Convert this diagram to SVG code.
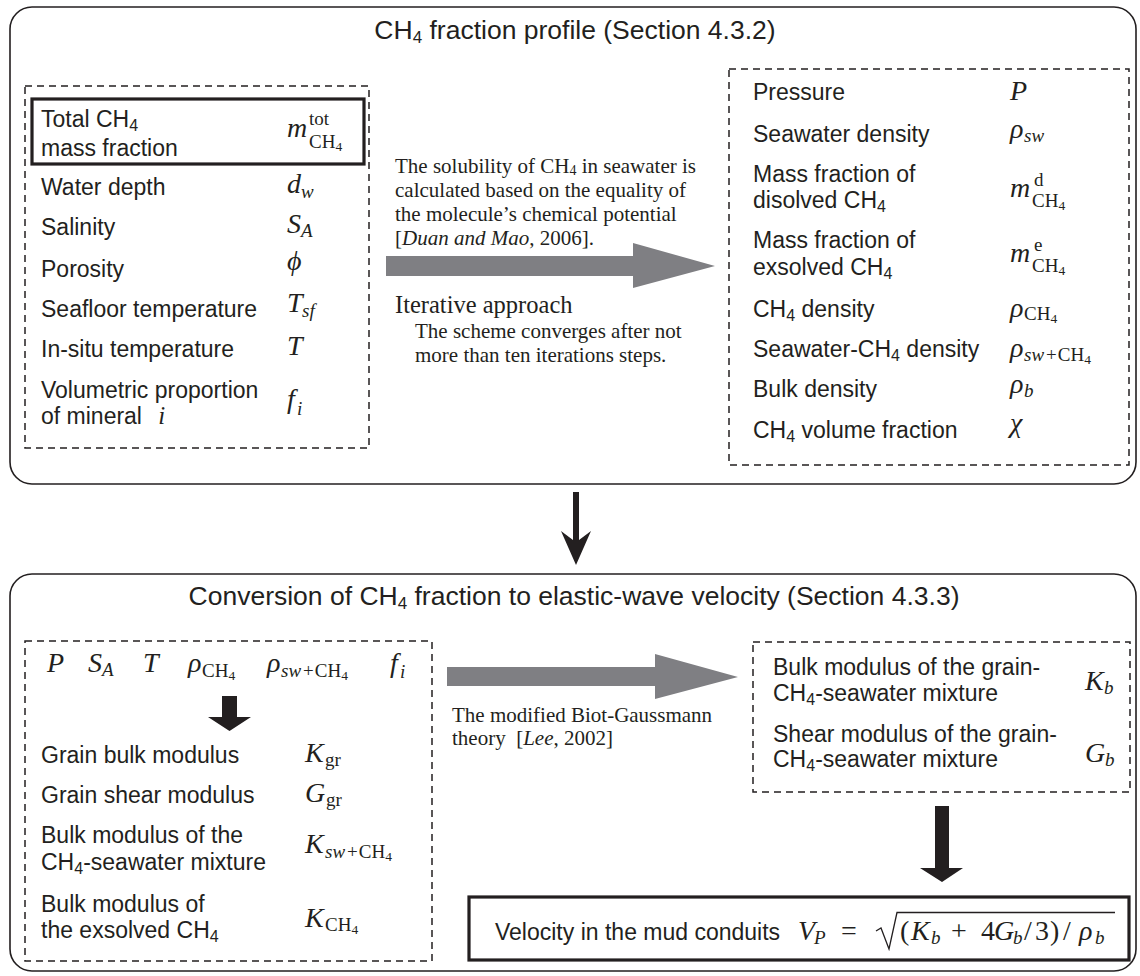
<svg xmlns="http://www.w3.org/2000/svg" width="1140" height="976" viewBox="0 0 1140 976">
<style>
.outer{fill:none;stroke:#231f20;stroke-width:1.6}
.dash{fill:none;stroke:#231f20;stroke-width:1.5;stroke-dasharray:7 5}
.solid{fill:none;stroke:#231f20;stroke-width:3.2}
text{fill:#231f20}
.lbl{font-family:"Liberation Sans",Arial,sans-serif;font-size:23px}
.ttl{font-family:"Liberation Sans",Arial,sans-serif;font-size:26.5px}
.ser{font-family:"Liberation Serif","Times New Roman",serif;font-size:21px}
.ser2{font-family:"Liberation Serif","Times New Roman",serif;font-size:24.5px}
.mi{font-family:"Liberation Serif","DejaVu Serif",serif;font-style:italic;font-size:28px}
.mr{font-family:"Liberation Serif","DejaVu Serif",serif;font-size:28px}
.si{font-family:"Liberation Serif","DejaVu Serif",serif;font-style:italic;font-size:19px}
.sr{font-family:"Liberation Serif","DejaVu Serif",serif;font-size:19px}
.s4{font-size:13.5px;font-style:normal}
.gray{fill:#7f7f83}
.blk{fill:#231f20}
.rad{fill:none;stroke:#231f20;stroke-width:1.3;stroke-linejoin:miter}
</style>

<g id="profile-section">
  <rect class="outer" x="10" y="7" width="1126" height="477" rx="22"/>
  <text class="ttl" x="575" y="39" text-anchor="middle">CH<tspan font-size="17" dy="4">4</tspan><tspan dy="-4"> fraction profile (Section 4.3.2)</tspan></text>
</g>

<g id="inputs">
  <rect class="dash" x="25" y="86" width="344" height="362"/>
  <g id="total-ch4">
    <rect class="solid" x="32" y="99" width="332" height="65"/>
    <text class="lbl" x="41" y="127">Total CH<tspan font-size="16" dy="4">4</tspan></text>
    <text class="lbl" x="41" y="156">mass fraction</text>
    <text class="mi" x="287" y="137">m</text>
    <text class="sr" x="309" y="125">tot</text>
    <text class="sr" x="309" y="148">CH<tspan class="s4" dy="3">4</tspan></text>
  </g>
  <text class="lbl" x="41" y="195">Water depth</text>
  <text class="mi" x="287" y="193">d</text><text class="si" x="301" y="198">w</text>
  <text class="lbl" x="41" y="235">Salinity</text>
  <text class="mi" x="287" y="233">S</text><text class="si" x="301" y="237">A</text>
  <text class="lbl" x="41" y="277">Porosity</text>
  <text class="mi" x="287" y="270">ϕ</text>
  <text class="lbl" x="41" y="317">Seafloor temperature</text>
  <text class="mi" x="287" y="312">T</text><text class="si" x="302" y="317">sf</text>
  <text class="lbl" x="41" y="357">In-situ temperature</text>
  <text class="mi" x="287" y="355">T</text>
  <text class="lbl" x="41" y="398">Volumetric proportion</text>
  <text class="lbl" x="41" y="424">of mineral<tspan dx="10" font-family="Liberation Serif, serif" font-style="italic" font-size="25"> i</tspan></text>
  <text class="mi" x="287" y="408">f</text><text class="si" x="297" y="415">i</text>
</g>

<g id="solubility-note">
  <text class="ser" x="395" y="173">The solubility of CH<tspan font-size="14" dy="2">4</tspan><tspan dy="-2"> in seawater is</tspan></text>
  <text class="ser" x="395" y="197">calculated based on the equality of</text>
  <text class="ser" x="395" y="221">the molecule’s chemical potential</text>
  <text class="ser" x="395" y="245">[<tspan font-style="italic">Duan and Mao</tspan>, 2006].</text>
  <text class="ser2" x="395" y="313">Iterative approach</text>
  <text class="ser" x="415" y="338">The scheme converges after not</text>
  <text class="ser" x="415" y="362">more than ten iterations steps.</text>
</g>

<g id="outputs">
  <rect class="dash" x="729" y="69" width="400" height="396"/>
  <text class="lbl" x="753" y="100">Pressure</text>
  <text class="mi" x="1010" y="100">P</text>
  <text class="lbl" x="753" y="142">Seawater density</text>
  <text class="mi" x="1010" y="138">ρ</text><text class="si" x="1024" y="142">sw</text>
  <text class="lbl" x="753" y="182">Mass fraction of</text>
  <text class="lbl" x="753" y="208">disolved CH<tspan font-size="16" dy="4">4</tspan></text>
  <text class="mi" x="1010" y="197">m</text><text class="sr" x="1034" y="186">d</text>
  <text class="sr" x="1032" y="207">CH<tspan class="s4" dy="3">4</tspan></text>
  <text class="lbl" x="753" y="248">Mass fraction of</text>
  <text class="lbl" x="753" y="275">exsolved CH<tspan font-size="16" dy="4">4</tspan></text>
  <text class="mi" x="1010" y="262">m</text><text class="sr" x="1034" y="251">e</text>
  <text class="sr" x="1032" y="272">CH<tspan class="s4" dy="3">4</tspan></text>
  <text class="lbl" x="753" y="317">CH<tspan font-size="16" dy="4">4</tspan><tspan dy="-4"> density</tspan></text>
  <text class="mi" x="1010" y="317">ρ</text><text class="sr" x="1024" y="320">CH<tspan class="s4" dy="3">4</tspan></text>
  <text class="lbl" x="753" y="357">Seawater-CH<tspan font-size="16" dy="4">4</tspan><tspan dy="-4"> density</tspan></text>
  <text class="mi" x="1010" y="357">ρ</text><text class="sr" x="1024" y="361"><tspan font-style="italic">sw</tspan><tspan dx="2">+</tspan><tspan dx="1">CH</tspan><tspan class="s4" dy="3">4</tspan></text>
  <text class="lbl" x="753" y="397">Bulk density</text>
  <text class="mi" x="1010" y="393">ρ</text><text class="si" x="1024" y="397">b</text>
  <text class="lbl" x="753" y="438">CH<tspan font-size="16" dy="4">4</tspan><tspan dy="-4"> volume fraction</tspan></text>
  <text class="mi" x="1010" y="432">χ</text>
</g>

<g id="conversion-section">
  <rect class="outer" x="10" y="574" width="1126" height="397" rx="22"/>
  <text class="ttl" x="574" y="605" text-anchor="middle">Conversion of CH<tspan font-size="17" dy="4">4</tspan><tspan dy="-4"> fraction to elastic-wave velocity (Section 4.3.3)</tspan></text>
</g>

<g id="moduli">
  <rect class="dash" x="25" y="641" width="407" height="320"/>
  <text class="mi" x="47" y="672">P</text>
  <text class="mi" x="88" y="672">S</text><text class="si" x="102" y="676">A</text>
  <text class="mi" x="143" y="672">T</text>
  <text class="mi" x="188" y="672">ρ</text><text class="sr" x="202" y="677">CH<tspan class="s4" dy="3">4</tspan></text>
  <text class="mi" x="267" y="672">ρ</text><text class="sr" x="281" y="677"><tspan font-style="italic">sw</tspan><tspan dx="2">+</tspan><tspan dx="1">CH</tspan><tspan class="s4" dy="3">4</tspan></text>
  <text class="mi" x="390" y="672">f</text><text class="si" x="400" y="678">i</text>
  <text class="lbl" x="41" y="763">Grain bulk modulus</text>
  <text class="mi" x="305" y="762">K</text><text class="sr" x="325" y="766">gr</text>
  <text class="lbl" x="41" y="803">Grain shear modulus</text>
  <text class="mi" x="305" y="802">G</text><text class="sr" x="326" y="806">gr</text>
  <text class="lbl" x="41" y="843">Bulk modulus of the</text>
  <text class="lbl" x="41" y="870">CH<tspan font-size="16" dy="4">4</tspan><tspan dy="-4">-seawater mixture</tspan></text>
  <text class="mi" x="305" y="853">K</text><text class="sr" x="325" y="858"><tspan font-style="italic">sw</tspan><tspan dx="2">+</tspan><tspan dx="1">CH</tspan><tspan class="s4" dy="3">4</tspan></text>
  <text class="lbl" x="41" y="912">Bulk modulus of</text>
  <text class="lbl" x="41" y="938">the exsolved CH<tspan font-size="16" dy="4">4</tspan></text>
  <text class="mi" x="305" y="927">K</text><text class="sr" x="325" y="931">CH<tspan class="s4" dy="3">4</tspan></text>
</g>

<g id="biot-note">
  <text class="ser" x="452" y="722">The modified Biot-Gaussmann</text>
  <text class="ser" x="452" y="745">theory&#160; [<tspan font-style="italic">Lee</tspan>, 2002]</text>
</g>

<g id="bulk-shear">
  <rect class="dash" x="753" y="642" width="377" height="150"/>
  <text class="lbl" x="773" y="675">Bulk modulus of the grain-</text>
  <text class="lbl" x="773" y="701">CH<tspan font-size="16" dy="4">4</tspan><tspan dy="-4">-seawater mixture</tspan></text>
  <text class="mi" x="1085" y="690">K</text><text class="si" x="1104" y="694">b</text>
  <text class="lbl" x="773" y="742">Shear modulus of the grain-</text>
  <text class="lbl" x="773" y="767">CH<tspan font-size="16" dy="4">4</tspan><tspan dy="-4">-seawater mixture</tspan></text>
  <text class="mi" x="1085" y="762">G</text><text class="si" x="1105" y="766">b</text>
</g>

<g id="velocity">
  <rect class="solid" x="469" y="897" width="660" height="63"/>
  <text class="lbl" x="495" y="940" font-size="22">Velocity in the mud conduits</text>
  <text class="mi" x="798" y="940">V</text><text class="si" x="814" y="944">P</text>
  <text class="mr" x="841" y="940">=</text>
  <path class="rad" d="M876,931 L881,928 L889,949 L897,912.5 H1115"/>
  <text class="mr" x="900" y="940">(</text>
  <text class="mi" x="911" y="940">K</text><text class="si" x="931" y="944">b</text>
  <text class="mr" x="951" y="940">+</text>
  <text class="mr" x="981" y="940">4</text>
  <text class="mi" x="994" y="940">G</text><text class="si" x="1013" y="944">b</text>
  <text class="mr" x="1024" y="940">/</text>
  <text class="mr" x="1035" y="940">3</text>
  <text class="mr" x="1050" y="940">)</text>
  <text class="mr" x="1063" y="940">/</text>
  <text class="mi" x="1079" y="940">ρ</text><text class="si" x="1095" y="944">b</text>
</g>

<g id="connectors">
  <path class="gray" d="M386,256 H633 V243 L715,266 L633,288 V276 H386 Z"/>
  <path class="gray" d="M447,667 H655 V654 L738,677 L655,699 V686 H447 Z"/>
  <path class="blk" d="M573,492 H579 V540 L591,531 L576,565 L561,531 L573,540 Z"/>
  <path class="blk" d="M222,696 H237 V717 H251 L229.5,731 L208,717 H222 Z"/>
  <path class="blk" d="M935,806 H949 V868 H963 L942,882 L920,868 H935 Z"/>
</g>
</svg>
